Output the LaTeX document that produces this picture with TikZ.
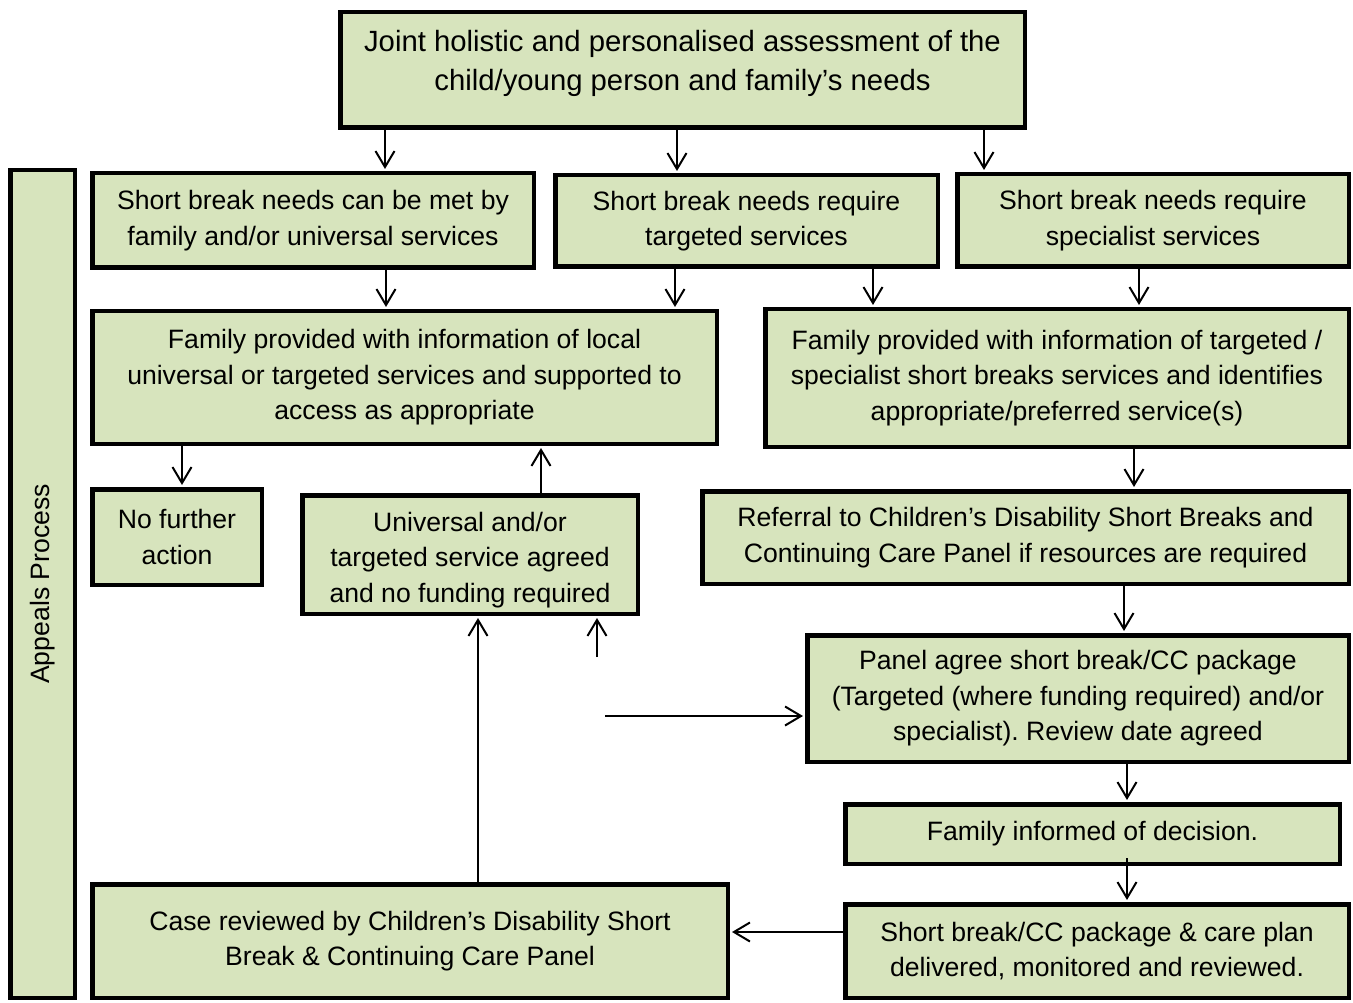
\documentclass[tikz,border=0pt]{standalone}
\usepackage{fontspec}
\setmainfont{Liberation Sans}
\usetikzlibrary{arrows.meta}
\definecolor{boxfill}{HTML}{D7E4BD}
\frenchspacing
\tikzset{
  box/.style={draw=black, line width=4.5pt, fill=boxfill, align=center, inner sep=0pt,
    font=\fontsize{26.6}{35.5}\selectfont},
  arr/.style={draw=black, line width=2pt, -{Straight Barb[length=16pt,width=19pt,line width=2pt]}, shorten >=2pt},
}
\begin{document}
\begin{tikzpicture}[x=1pt,y=-1pt]
\useasboundingbox (0,0) rectangle (1353,1003);
\node[box, minimum width=684.5pt, minimum height=115.5pt] (top) at (682.5,70)
  {\fontsize{29.3}{39}\selectfont\parbox{680pt}{\centering Joint holistic and personalised assessment of the\\ child/young person and family’s needs\par\vspace{14pt}}};
\node[box, rotate=90, minimum width=827.5pt, minimum height=64.5pt] (app) at (42.5,584) {Appeals Process};
\node[box, minimum width=441.5pt, minimum height=94.5pt] (A) at (313,220.5) {Short break needs can be met by\\ family and/or universal services};
\node[box, minimum width=382.5pt, minimum height=91.5pt] (B) at (746.5,221) {Short break needs require\\ targeted services};
\node[box, minimum width=391.5pt, minimum height=92.5pt] (C) at (1153,220.5) {Short break needs require\\ specialist services};
\node[box, minimum width=624.5pt, minimum height=132.5pt] (D) at (404.5,377.5) {Family provided with information of local\\ universal or targeted services and supported to\\ access as appropriate};
\node[box, minimum width=583.5pt, minimum height=137.5pt] (E) at (1057,378) {Family provided with information of targeted /\\ specialist short breaks services and identifies\\ appropriate/preferred service(s)};
\node[box, minimum width=169.5pt, minimum height=95.5pt] (F) at (177,537) {No further\\ action};
\node[box, minimum width=335.5pt, minimum height=118.5pt] (G) at (470,554.5)
  {\parbox{330pt}{\vspace*{11pt}\centering Universal and/or\\ targeted service agreed\\ and no funding required\par}};
\node[box, minimum width=646.5pt, minimum height=92.5pt] (H) at (1025.5,537.5) {Referral to Children’s Disability Short Breaks and\\ Continuing Care Panel if resources are required};
\node[box, minimum width=541.5pt, minimum height=126.5pt] (I) at (1078,698.5) {Panel agree short break/CC package\\ (Targeted (where funding required) and/or\\ specialist). Review date agreed};
\node[box, minimum width=494.5pt, minimum height=59.5pt] (J) at (1092.5,834) {Family informed of decision.};
\node[box, minimum width=503.5pt, minimum height=93.5pt] (K) at (1097,951) {Short break/CC package \& care plan\\ delivered, monitored and reviewed.};
\node[box, minimum width=635.5pt, minimum height=113.5pt] (L) at (410,941) {Case reviewed by Children’s Disability Short\\ Break \& Continuing Care Panel};
% connectors
\draw[arr] (385,0 |- top.south) -- (385,0 |- A.north);
\draw[arr] (677,0 |- top.south) -- (677,0 |- B.north);
\draw[arr] (984,0 |- top.south) -- (984,0 |- C.north);
\draw[arr] (386,0 |- A.south) -- (386,0 |- D.north);
\draw[arr] (675,0 |- B.south) -- (675,0 |- D.north);
\draw[arr] (873,0 |- B.south) -- (873,0 |- E.north);
\draw[arr] (1139,0 |- C.south) -- (1139,0 |- E.north);
\draw[arr] (182,0 |- D.south) -- (182,0 |- F.north);
\draw[arr] (541,0 |- G.north) -- (541,0 |- D.south);
\draw[arr] (1134,0 |- E.south) -- (1134,0 |- H.north);
\draw[arr] (1124,0 |- H.south) -- (1124,0 |- I.north);
\draw[arr] (1127,0 |- I.south) -- (1127,0 |- J.north);
\path (1127,0 |- J.south) coordinate (js);
\draw[arr] ([yshift=8pt]js) -- (1127,0 |- K.north);
\draw[arr] (K.west |- 0,932) -- (L.east |- 0,932);
\draw[arr] (478,0 |- L.north) -- (478,0 |- G.south);
\coordinate (f1) at (597,657);
\draw[arr] (f1) -- (f1 |- G.south);
\coordinate (f2) at (605,716);
\draw[arr] (f2) -- (f2 -| I.west);
\end{tikzpicture}
\end{document}
